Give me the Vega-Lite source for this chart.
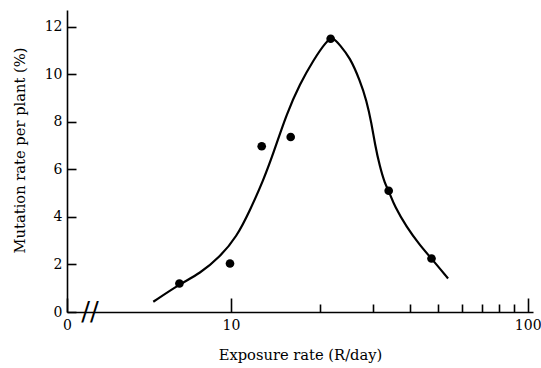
{
  "$schema": "https://vega.github.io/schema/vega-lite/v6.json",
  "width": 466,
  "height": 302,
  "autosize": "none",
  "padding": {"left": 67, "top": 10, "right": 8, "bottom": 56},
  "background": "white",
  "config": {
    "view": {"stroke": null},
    "font": "DejaVu Serif",
    "axis": {
      "grid": false,
      "domainColor": "black",
      "domainWidth": 1.6,
      "tickColor": "black",
      "tickWidth": 1.6,
      "labelColor": "black",
      "labelFont": "DejaVu Serif",
      "labelFontSize": 14,
      "titleFont": "DejaVu Serif",
      "titleFontSize": 14.7,
      "titleFontWeight": "normal",
      "titleColor": "black",
      "labelOverlap": false,
      "labelFlush": false
    }
  },
  "datasets": {
    "curve": [
      {"rate": 5.47, "mutation": 0.43},
      {"rate": 6.70, "mutation": 1.17},
      {"rate": 7.86, "mutation": 1.62},
      {"rate": 9.18, "mutation": 2.32},
      {"rate": 10.45, "mutation": 3.16},
      {"rate": 11.59, "mutation": 4.28},
      {"rate": 12.85, "mutation": 5.54},
      {"rate": 13.88, "mutation": 6.66},
      {"rate": 15.40, "mutation": 8.34},
      {"rate": 17.08, "mutation": 9.60},
      {"rate": 18.93, "mutation": 10.58},
      {"rate": 21.00, "mutation": 11.41},
      {"rate": 22.10, "mutation": 11.56},
      {"rate": 23.28, "mutation": 11.22},
      {"rate": 25.16, "mutation": 10.71},
      {"rate": 27.19, "mutation": 9.74},
      {"rate": 28.63, "mutation": 8.90},
      {"rate": 29.77, "mutation": 7.92},
      {"rate": 30.53, "mutation": 7.08},
      {"rate": 31.75, "mutation": 6.10},
      {"rate": 33.01, "mutation": 5.40},
      {"rate": 34.04, "mutation": 5.09},
      {"rate": 35.66, "mutation": 4.42},
      {"rate": 39.05, "mutation": 3.58},
      {"rate": 43.29, "mutation": 2.81},
      {"rate": 47.4, "mutation": 2.25},
      {"rate": 53.9, "mutation": 1.41}
    ],
    "points": [
      {"rate": 6.70, "mutation": 1.20},
      {"rate": 9.92, "mutation": 2.04},
      {"rate": 12.69, "mutation": 6.97},
      {"rate": 15.89, "mutation": 7.36},
      {"rate": 21.67, "mutation": 11.49},
      {"rate": 34.0, "mutation": 5.1},
      {"rate": 47.4, "mutation": 2.25}
    ],
    "axisbreak": [
      {"rate": 3.35, "mutation": 0, "label": "//"}
    ]
  },
  "layer": [
    {
      "data": {"name": "curve"},
      "mark": {"type": "line", "interpolate": "basis", "color": "black", "strokeWidth": 2.2},
      "encoding": {
        "x": {
          "field": "rate",
          "type": "quantitative",
          "scale": {"type": "log", "domain": [2.8, 104.2], "nice": false, "zero": false},
          "axis": {
            "title": "Exposure rate (R/day)",
            "values": [2.8, 10, 20, 30, 40, 50, 60, 70, 80, 90, 100],
            "labelExpr": "datum.value < 5 ? '0' : (datum.value == 10 ? '10' : (datum.value == 100 ? '100' : ''))",
            "tickSize": {"condition": {"test": "datum.value < 5 || datum.value == 10 || datum.value == 100", "value": -14}, "value": -8},
            "labelPadding": 20,
            "titleY": 43,
            "titleBaseline": "middle"
          }
        },
        "y": {
          "field": "mutation",
          "type": "quantitative",
          "scale": {"domain": [0, 12.7], "nice": false},
          "axis": {
            "title": "Mutation rate per plant (%)",
            "values": [0, 2, 4, 6, 8, 10, 12],
            "tickSize": -9,
            "labelPadding": 14,
            "titleX": -47,
            "titleY": 140,
            "titleBaseline": "middle"
          }
        }
      }
    },
    {
      "data": {"name": "points"},
      "mark": {"type": "circle", "color": "black", "opacity": 1, "size": 75},
      "encoding": {
        "x": {"field": "rate", "type": "quantitative"},
        "y": {"field": "mutation", "type": "quantitative"}
      }
    },
    {
      "data": {"name": "axisbreak"},
      "mark": {"type": "text", "font": "DejaVu Serif", "fontSize": 26, "color": "black", "baseline": "middle", "align": "center"},
      "encoding": {
        "x": {"field": "rate", "type": "quantitative"},
        "y": {"field": "mutation", "type": "quantitative"},
        "text": {"field": "label"}
      }
    }
  ]
}
